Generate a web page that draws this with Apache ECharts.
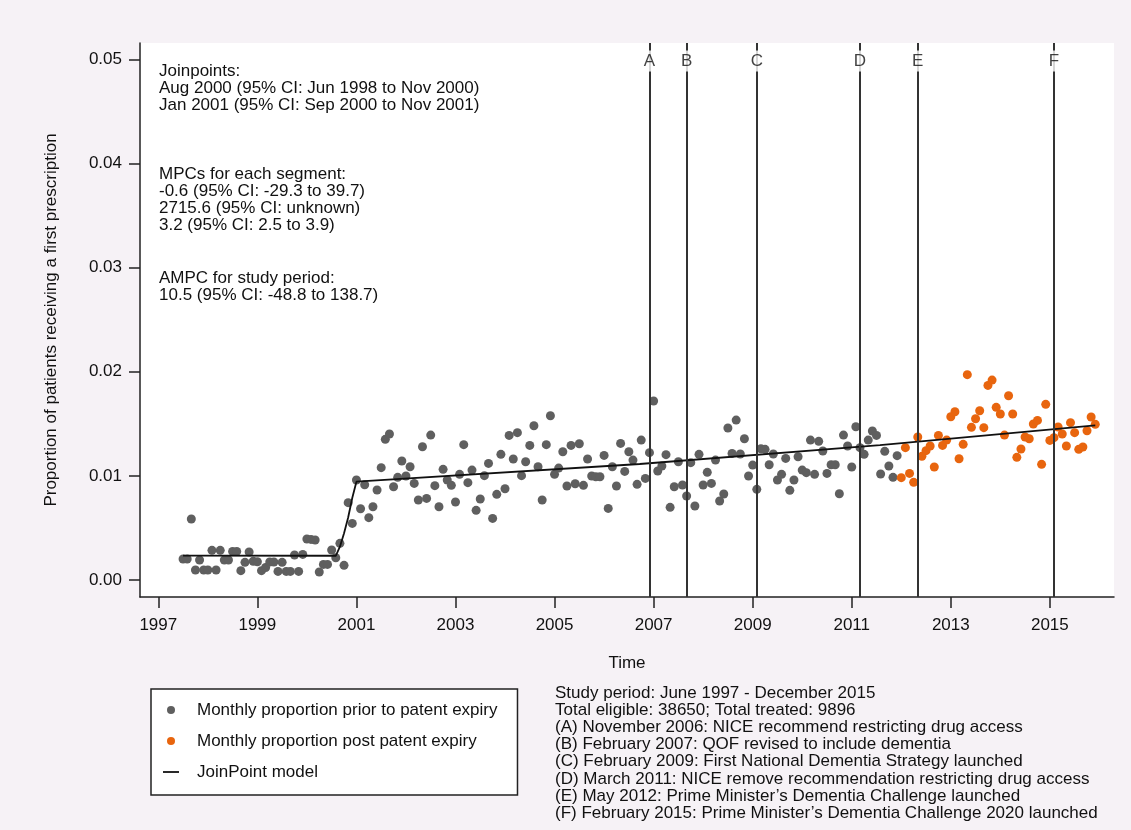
<!DOCTYPE html>
<html>
<head>
<meta charset="utf-8">
<title>First prescriptions over time</title>
<script src="https://cdn.jsdelivr.net/npm/echarts@6/dist/echarts.min.js"></script>
<style>
  html, body { margin: 0; padding: 0; background: #f6f2f6; }
  #main { width: 1131px; height: 830px; }
</style>
</head>
<body>
<div id="main"></div>
<script>
// monthly proportions, prior to patent expiry: Jul 1997 .. Dec 2011
let grayValues = [
  0.00202, 0.00202, 0.00586, 0.00096, 0.00192, 0.00096, 0.00096, 0.00285, 0.00096, 0.00285,
  0.00192, 0.00192, 0.00275, 0.00275, 0.0009, 0.0017, 0.00269, 0.0018, 0.00176, 0.0009,
  0.0012, 0.00173, 0.00173, 0.00083, 0.0017, 0.00083, 0.00083, 0.0024, 0.00083, 0.00246,
  0.00394, 0.0039, 0.00384, 0.00077, 0.0015, 0.0015, 0.00288, 0.00214, 0.00352, 0.00141,
  0.00743, 0.00544, 0.0096, 0.00685, 0.00915, 0.00599, 0.00704, 0.00864, 0.01079, 0.01351,
  0.01402, 0.00896, 0.00986, 0.01143, 0.00999, 0.01088, 0.00928, 0.00768, 0.0128, 0.00784,
  0.01392, 0.00906, 0.00704, 0.01063, 0.0096, 0.00909, 0.00749, 0.01015, 0.013, 0.00935,
  0.01056, 0.00669, 0.00778, 0.01002, 0.0112, 0.00592, 0.00823, 0.01207, 0.00877, 0.01389,
  0.01162, 0.01415, 0.01002, 0.01136, 0.01293, 0.01482, 0.01088, 0.00768, 0.013, 0.01578,
  0.01015, 0.01075, 0.01232, 0.00903, 0.01293, 0.00925, 0.01309, 0.00909, 0.01162, 0.00999,
  0.00992, 0.00992, 0.01197, 0.00688, 0.01088, 0.00903, 0.01312, 0.01043, 0.01232, 0.01152,
  0.00919, 0.01344, 0.00976, 0.01223, 0.01719, 0.01047, 0.01095, 0.01204, 0.00698, 0.00896,
  0.01136, 0.00912, 0.00807, 0.01127, 0.00711, 0.01207, 0.00912, 0.01034, 0.00928, 0.01152,
  0.00759, 0.00826, 0.0146, 0.01216, 0.01536, 0.0121, 0.01357, 0.00999, 0.01104, 0.00871,
  0.01261, 0.01255, 0.01107, 0.0121, 0.0096, 0.01015, 0.01168, 0.00861, 0.0096, 0.01184,
  0.01056, 0.01031, 0.01344, 0.01015, 0.01332, 0.01239, 0.01024, 0.01107, 0.01107, 0.00829,
  0.01392, 0.01287, 0.01085, 0.01472, 0.01271, 0.01207, 0.01344, 0.01431, 0.01389, 0.01018,
  0.01236, 0.01095, 0.00986, 0.01194
]
// post patent expiry: Jan 2012 .. Dec 2015
let orangeValues = [
  0.00983, 0.01271, 0.01024, 0.00938, 0.01373, 0.01188, 0.01242, 0.01287, 0.01085, 0.01389,
  0.01293, 0.01344, 0.01568, 0.01616, 0.01165, 0.01303, 0.01972, 0.01466, 0.01549, 0.01626,
  0.01463, 0.01869, 0.0192, 0.01658, 0.01594, 0.01392, 0.0177, 0.01594, 0.01178, 0.01258,
  0.01373, 0.01357, 0.01498, 0.01533, 0.01111, 0.01687, 0.01341, 0.01367, 0.01469, 0.01402,
  0.01287, 0.01511, 0.01415, 0.01255, 0.01277, 0.01434, 0.01565, 0.01495
]
let grayStart = 1997 + 6/12   // July 1997
let orangeStart = 2012        // January 2012

// joinpoint fitted model
let modelTimes = [1997.5, 2000.583, 2000.667, 2000.75, 2000.833, 2000.917, 2001.0, 2006.72, 2011.57, 2015.917]
let modelValues = [0.00235, 0.00233, 0.0032, 0.0045, 0.006, 0.0079, 0.00944, 0.01114, 0.01296, 0.01486]

// policy events
let eventLabels = ['A','B','C','D','E','F']
let eventTimes = [2006.917, 2007.667, 2009.083, 2011.167, 2012.333, 2015.083]

let yearTicks = [1997,1999,2001,2003,2005,2007,2009,2011,2013,2015]
let yTicks = [0, 0.01, 0.02, 0.03, 0.04, 0.05]

let FONT = '"Liberation Sans", Arial, sans-serif'
let INK = '#111'

let grayData = grayValues.map((v,i)=>[grayStart + i/12, v])
let orangeData = orangeValues.map((v,i)=>[orangeStart + i/12, v])
let modelData = modelTimes.map((t,i)=>[t, modelValues[i]])

let noteLeft = [
  'Joinpoints:\nAug 2000 (95% CI: Jun 1998 to Nov 2000)\nJan 2001 (95% CI: Sep 2000 to Nov 2001)',
  'MPCs for each segment:\n-0.6 (95% CI: -29.3 to 39.7)\n2715.6 (95% CI: unknown)\n3.2 (95% CI: 2.5 to 3.9)',
  'AMPC for study period:\n10.5 (95% CI: -48.8 to 138.7)'
]
let noteRight = [
  'Study period: June 1997 - December 2015',
  'Total eligible: 38650; Total treated: 9896',
  '(A) November 2006: NICE recommend restricting drug access',
  '(B) February 2007: QOF revised to include dementia',
  '(C) February 2009: First National Dementia Strategy launched',
  '(D) March 2011: NICE remove recommendation restricting drug access',
  '(E) May 2012: Prime Minister\u2019s Dementia Challenge launched',
  '(F) February 2015: Prime Minister\u2019s Dementia Challenge 2020 launched'
].join('\n')

function txt(x, y, s){
  return {
    type: 'text', left: x, top: y, silent: true,
    style: { text: s, font: '17px ' + FONT, fill: INK, lineHeight: 17.2 }
  }
}

var myChart = echarts.init(document.getElementById('main'))
option = {
  backgroundColor: '#f6f2f6',
  animation: false,
  grid: { left: 140, right: 17, top: 43, bottom: 233, show: true, backgroundColor: '#fff', borderWidth: 0 },
  xAxis: {
    type: 'value', min: 1996.6305, max: 2016.295,
    name: 'Time', nameLocation: 'middle', nameGap: 58,
    nameTextStyle: { fontSize: 17, color: INK, fontFamily: FONT },
    axisLine: { show: true, onZero: false, lineStyle: { color: '#222', width: 1.5 } },
    axisTick: { show: true, length: 11, customValues: yearTicks, lineStyle: { color: '#222', width: 1.5 } },
    axisLabel: { customValues: yearTicks, fontSize: 17, color: INK, fontFamily: FONT, margin: 20,
      formatter: v => String(v) },
    splitLine: { show: false }
  },
  yAxis: {
    type: 'value', min: -0.00163, max: 0.05157,
    name: 'Proportion of patients receiving a first prescription',
    nameLocation: 'middle', nameGap: 80, nameRotate: 90,
    nameTextStyle: { fontSize: 17, color: INK, fontFamily: FONT },
    axisLine: { show: true, onZero: false, lineStyle: { color: '#222', width: 1.5 } },
    axisTick: { show: true, length: 11, customValues: yTicks, lineStyle: { color: '#222', width: 1.5 } },
    axisLabel: { customValues: yTicks, fontSize: 17, color: INK, fontFamily: FONT, margin: 18,
      formatter: v => v.toFixed(2) },
    splitLine: { show: false }
  },
  legend: {
    left: 151, top: 689, orient: 'vertical',
    padding: [12, 20, 14, 12], itemGap: 13, itemWidth: 16, itemHeight: 8,
    backgroundColor: '#fff', borderColor: '#222', borderWidth: 1.5,
    textStyle: { fontSize: 17, color: INK, fontFamily: FONT, padding: [0,0,0,13], lineHeight: 18 },
    data: [
      { name: 'Monthly proportion prior to patent expiry', icon: 'circle' },
      { name: 'Monthly proportion post patent expiry', icon: 'circle' },
      { name: 'JoinPoint model', icon: 'path://M0,0L16,0L16,1.8L0,1.8Z' }
    ]
  },
  graphic: [
    txt(159, 62.4, noteLeft[0]),
    txt(159, 165.4, noteLeft[1]),
    txt(159, 269.7, noteLeft[2]),
    txt(555, 684.4, noteRight)
  ],
  series: [
    {
      // policy event lines
      name: 'events', type: 'line', data: [], z: 1, silent: true,
      markLine: {
        symbol: ['none','none'], silent: true, animation: false,
        label: { show: false },
        lineStyle: { color: '#333', width: 2, type: 'solid' },
        data: eventTimes.map(t=>({ xAxis: t }))
      }
    },
    {
      name: 'Monthly proportion prior to patent expiry', type: 'scatter', z: 2,
      symbolSize: 9, itemStyle: { color: '#5f5f5f', opacity: 1 },
      data: grayData
    },
    {
      name: 'Monthly proportion post patent expiry', type: 'scatter', z: 2,
      symbolSize: 9, itemStyle: { color: '#e8650e', opacity: 1 },
      data: orangeData
    },
    {
      name: 'JoinPoint model', type: 'line', z: 3, symbol: 'none', showSymbol: false,
      lineStyle: { color: '#111', width: 1.8 }, itemStyle: { color: '#111' },
      data: modelData
    },
    {
      // letters above event lines
      name: 'eventLetters', type: 'scatter', z: 5, silent: true,
      symbolSize: 1, itemStyle: { color: 'transparent' },
      data: eventTimes.map((t,k)=>({ value: [t, 0.04984], name: eventLabels[k] })),
      label: { show: true, position: 'inside', formatter: '{b}', fontSize: 17, color: INK,
        fontFamily: FONT, backgroundColor: '#fff', padding: [2, 1] }
    }
  ]
}
myChart.setOption(option)
</script>
</body>
</html>
